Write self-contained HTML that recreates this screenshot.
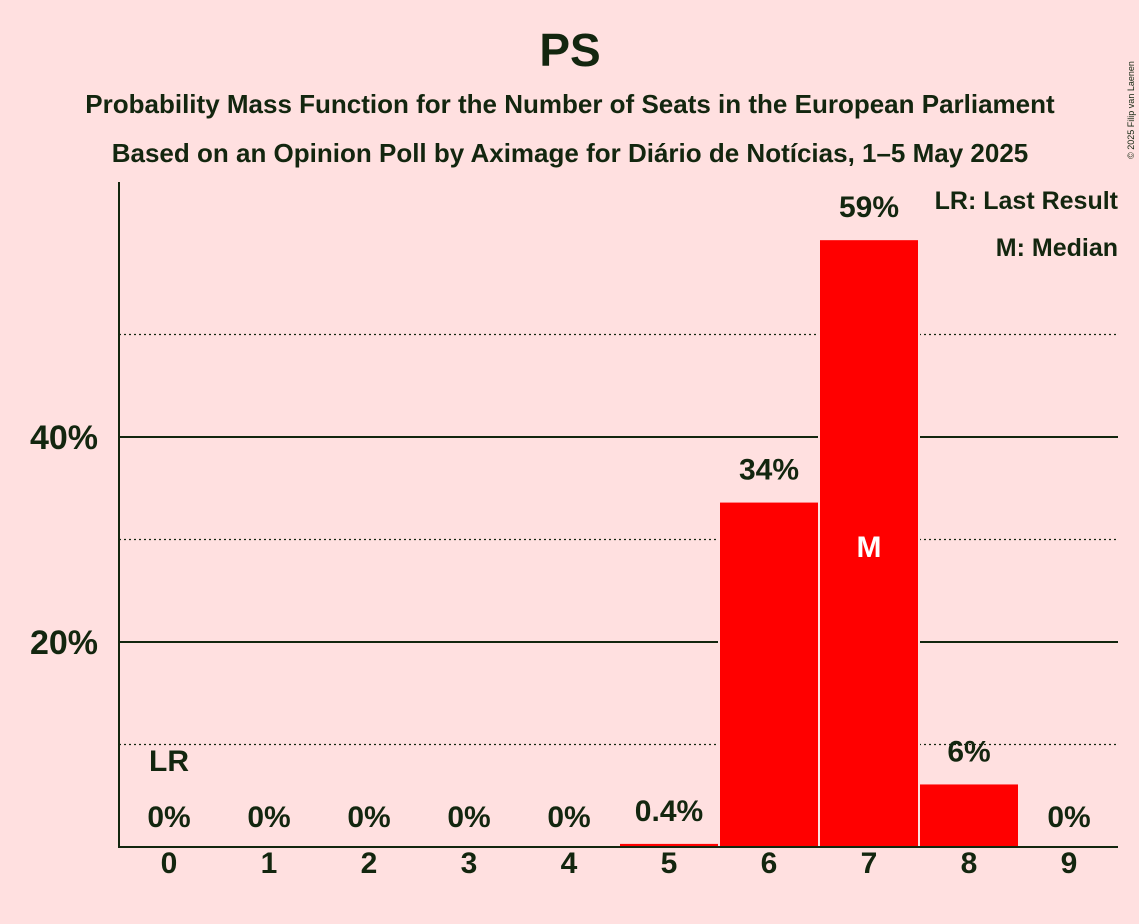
<!DOCTYPE html>
<html><head><meta charset="utf-8"><style>
body{margin:0;background:#FFE0E0;}
svg{display:block;font-family:"Liberation Sans",sans-serif;}
</style></head><body>
<svg id="c" width="1139" height="924">
<rect width="1139" height="924" fill="#FFE0E0"/>
<text x="570" y="66" text-anchor="middle" font-size="46" font-weight="bold" fill="#13260f">PS</text>
<text x="570" y="113" text-anchor="middle" font-size="26" font-weight="bold" fill="#13260f">Probability Mass Function for the Number of Seats in the European Parliament</text>
<text x="570" y="162" text-anchor="middle" font-size="26" font-weight="bold" fill="#13260f">Based on an Opinion Poll by Aximage for Diário de Notícias, 1–5 May 2025</text>
<text x="1118" y="209" text-anchor="end" font-size="25" font-weight="bold" fill="#13260f">LR: Last Result</text>
<text x="1118" y="256" text-anchor="end" font-size="25" font-weight="bold" fill="#13260f">M: Median</text>
<text transform="translate(1134,110) rotate(-90)" text-anchor="middle" font-size="9" fill="#13260f">© 2025 Filip van Laenen</text>
<g id="grid"></g><g id="bars"></g><g id="labels"></g>
<line x1="119" y1="182" x2="119" y2="848" stroke="#13260f" stroke-width="2"/>
<line x1="118" y1="847" x2="1118" y2="847" stroke="#13260f" stroke-width="2"/>
</svg>
<script>
const categories=[0,1,2,3,4,5,6,7,8,9];
const values=[0,0,0,0,0,0.4,33.7,59.3,6.2,0];
const valueLabels=["0%","0%","0%","0%","0%","0.4%","34%","59%","6%","0%"];
const yTicks=[20,40];
const yMinor=[10,30,50];
const lastResult=0, median=7;
const NS="http://www.w3.org/2000/svg";
const y=v=>847-v*10.25;
const xc=i=>169+100*i;
function mk(tag,attrs,parent,text){const e=document.createElementNS(NS,tag);for(const k in attrs)e.setAttribute(k,attrs[k]);if(text!==undefined)e.textContent=text;document.getElementById(parent).appendChild(e);return e;}
yMinor.forEach(t=>{const l=mk('line',{x1:119,x2:1118,y1:y(t),y2:y(t),stroke:'#13260f','stroke-width':1.3,'stroke-dasharray':'2,3'},'grid');

});
yTicks.forEach(t=>{const l=mk('line',{x1:119,x2:1118,y1:y(t),y2:y(t),stroke:'#13260f','stroke-width':2},'grid');


const tx=mk('text',{x:98,y:y(t)+12,'text-anchor':'end','font-size':34,'font-weight':'bold',fill:'#13260f'},'labels',t+'%');

});
categories.forEach((c,i)=>{
 if(values[i]>0){const r=mk('rect',{x:xc(i)-50,y:y(values[i]),width:100,height:847-y(values[i]),fill:'#FF0000',stroke:'#FFE0E0','stroke-width':2},'bars');
 
 }
 const ly=values[i]>0?y(values[i])-22:y(0)-20;
 const t=mk('text',{x:xc(i),y:ly,'text-anchor':'middle','font-size':30,'font-weight':'bold',fill:'#13260f'},'labels',valueLabels[i]);
 
 
 const xt=mk('text',{x:xc(i),y:873,'text-anchor':'middle','font-size':30,'font-weight':'bold',fill:'#13260f'},'labels',String(c));
 
 
});
const lr=mk('text',{x:xc(lastResult),y:771,'text-anchor':'middle','font-size':30,'font-weight':'bold',fill:'#13260f'},'labels','LR');


const m=mk('text',{x:xc(median),y:557,'text-anchor':'middle','font-size':30,'font-weight':'bold',fill:'#FFFFFF'},'labels','M');


</script>
</body></html>
